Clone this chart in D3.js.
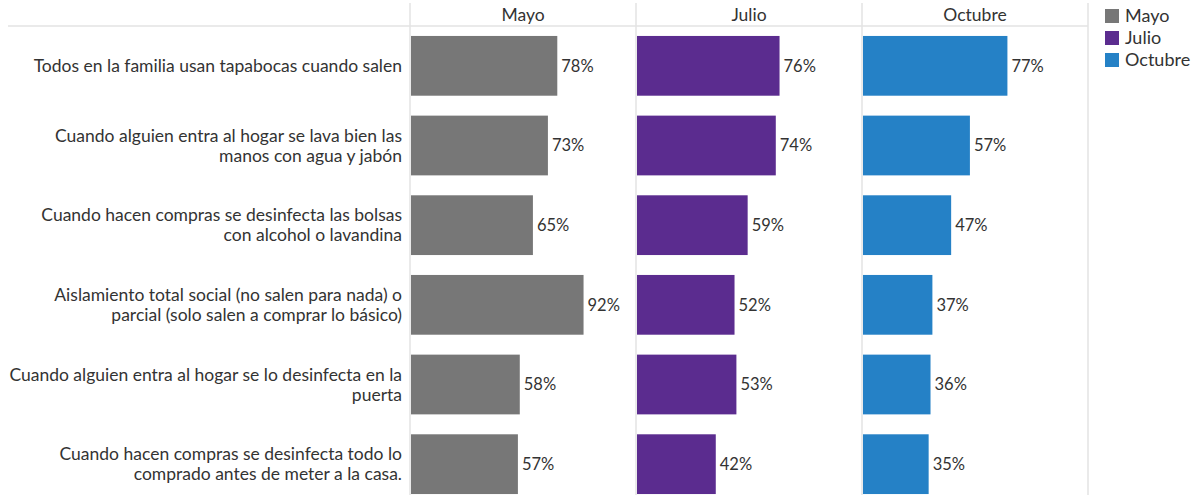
<!DOCTYPE html>
<html>
<head>
<meta charset="utf-8">
<script src="https://cdn.jsdelivr.net/npm/d3@7"></script>
<style>
  body { margin: 0; background: #fff; }
  svg { display: block; font-family: Lato, "Open Sans", sans-serif; }
</style>
</head>
<body>
<div id="chart"></div>
<script>
// Survey items (row labels, already broken into lines as in the picture)
const categories = [
  ['Todos en la familia usan tapabocas cuando salen'],
  ['Cuando alguien entra al hogar se lava bien las', 'manos con agua y jabón'],
  ['Cuando hacen compras se desinfecta las bolsas', 'con alcohol o lavandina'],
  ['Aislamiento total social (no salen para nada) o', 'parcial (solo salen a comprar lo básico)'],
  ['Cuando alguien entra al hogar se lo desinfecta en la', 'puerta'],
  ['Cuando hacen compras se desinfecta todo lo', 'comprado antes de meter a la casa.']
];

const months = ['Mayo', 'Julio', 'Octubre'];
const mayo    = [78, 73, 65, 92, 58, 57];
const julio   = [76, 74, 59, 52, 53, 42];
const octubre = [77, 57, 47, 37, 36, 35];
const seriesValues = [mayo, julio, octubre];
const colors = ['#777777', '#5b2c8f', '#2581c6'];

const W = 1196, H = 499;
const left = 410, panelW = 226, headerY = 26, bottom = 504;
const gridColor = '#e3e3e3', textColor = '#333333';

const svg = d3.select('#chart').append('svg')
  .attr('width', W).attr('height', H);

// ─── Scales ────────────────────────────────────────────────────────────
const panelX = d3.scaleBand().domain(months).range([left, left + panelW * 3]);
const x = d3.scaleLinear().domain([0, 120.5]).range([0, panelW]);
const y = d3.scaleBand().domain(d3.range(categories.length))
  .range([headerY, bottom]).paddingInner(0.25).paddingOuter(0.125);

// ─── Grid lines ────────────────────────────────────────────────────────
svg.append('line')
  .attr('x1', 8).attr('x2', left + panelW * 3)
  .attr('y1', headerY).attr('y2', headerY)
  .attr('stroke', gridColor).attr('stroke-width', 1.5);

svg.selectAll('line.vgrid')
  .data(d3.range(months.length + 1))
  .join('line')
  .attr('class', 'vgrid')
  .attr('x1', i => left + panelW * i).attr('x2', i => left + panelW * i)
  .attr('y1', 3).attr('y2', 495)
  .attr('stroke', gridColor).attr('stroke-width', 1.5);

// ─── Row labels ────────────────────────────────────────────────────────
const lineH = 20;
const labels = svg.selectAll('text.cat')
  .data(categories)
  .join('text')
  .attr('class', 'cat')
  .attr('text-anchor', 'end')
  .attr('fill', textColor)
  .style('font-size', '17.5px');

labels.each(function(lines, i) {
  const cy = y(i) + y.bandwidth() / 2;
  const y0 = cy - (lines.length - 1) * lineH / 2;
  d3.select(this).selectAll('tspan')
    .data(lines)
    .join('tspan')
    .attr('x', 402)
    .attr('y', (d, j) => y0 + j * lineH)
    .attr('dy', '0.35em')
    .text(d => d);
});

// ─── Panels ────────────────────────────────────────────────────────────
months.forEach((m, mi) => {
  const g = svg.append('g').attr('transform', `translate(${panelX(m)},0)`);

  g.append('text')
    .attr('x', panelW / 2).attr('y', 15)
    .attr('dy', '0.35em')
    .attr('text-anchor', 'middle')
    .attr('fill', textColor)
    .style('font-size', '17.5px')
    .text(m);

  const vals = seriesValues[mi];
  g.selectAll('rect')
    .data(vals)
    .join('rect')
    .attr('x', 1)
    .attr('y', (d, i) => y(i))
    .attr('width', d => x(d))
    .attr('height', y.bandwidth())
    .attr('fill', colors[mi]);

  g.selectAll('text.val')
    .data(vals)
    .join('text')
    .attr('class', 'val')
    .attr('x', d => x(d) + 5)
    .attr('y', (d, i) => y(i) + y.bandwidth() / 2)
    .attr('dy', '0.35em')
    .attr('fill', textColor)
    .style('font-size', '16.5px')
    .text(d => d + '%');
});

// ─── Legend ────────────────────────────────────────────────────────────
const legend = svg.append('g').attr('transform', 'translate(1105,9)');
const item = legend.selectAll('g')
  .data(months)
  .join('g')
  .attr('transform', (d, i) => `translate(0,${i * 22})`);
item.append('rect')
  .attr('width', 14).attr('height', 14)
  .attr('fill', (d, i) => colors[i]);
item.append('text')
  .attr('x', 20).attr('y', 7).attr('dy', '0.35em')
  .attr('fill', textColor)
  .style('font-size', '18px')
  .text(d => d);
</script>
</body>
</html>
